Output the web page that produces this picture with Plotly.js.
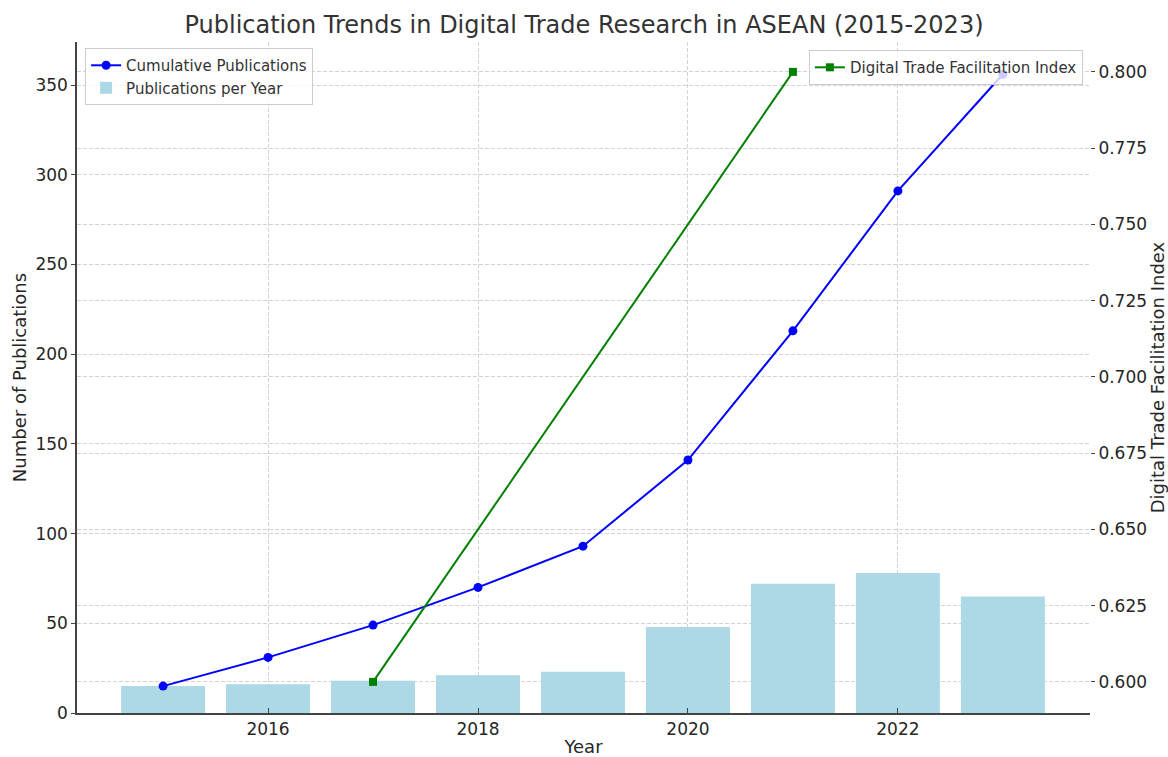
<!DOCTYPE html>
<html>
<head>
<meta charset="utf-8">
<script src="https://cdn.plot.ly/plotly-3.0.1.min.js"></script>
<style>html,body{margin:0;padding:0;background:#fff;}#chart{width:1168px;height:757px;}</style>
</head>
<body>
<div id="chart"></div>
<script>
const years = [2015, 2016, 2017, 2018, 2019, 2020, 2021, 2022, 2023];
const perYear = [15, 16, 18, 21, 23, 48, 72, 78, 65];
const cumulative = [15, 31, 49, 70, 93, 141, 213, 291, 356];
const dtfiYears = [2017, 2021];
const dtfiValues = [0.60, 0.80];

const FONT = 'DejaVu Sans, sans-serif';
const gridColor = '#d3d3d3';
const gridDash = '4px,2px';

const traces = [
  {
    type: 'bar', x: years, y: perYear, name: 'Publications per Year',
    marker: {color: '#add8e6'}, width: 0.8, xaxis: 'x', yaxis: 'y',
    legend: 'legend', legendrank: 2
  },
  {
    type: 'scatter', mode: 'lines+markers', x: years, y: cumulative,
    name: 'Cumulative Publications', line: {color: '#0000ff', width: 2},
    marker: {color: '#0000ff', size: 9, symbol: 'circle'},
    xaxis: 'x', yaxis: 'y', legend: 'legend', legendrank: 1
  },
  {
    type: 'scatter', mode: 'lines+markers', x: dtfiYears, y: dtfiValues,
    name: 'Digital Trade Facilitation Index', line: {color: '#008000', width: 2},
    marker: {color: '#008000', size: 8, symbol: 'square'},
    xaxis: 'x', yaxis: 'y2', legend: 'legend2'
  }
];

const layout = {
  width: 1168, height: 757,
  margin: {l: 77, r: 78, t: 42, b: 44},
  paper_bgcolor: '#fff', plot_bgcolor: '#fff',
  font: {family: FONT, color: '#262626', size: 17},
  title: {text: 'Publication Trends in Digital Trade Research in ASEAN (2015-2023)',
          font: {family: FONT, size: 24, color: '#333'}, x: 0.5, xanchor: 'center', y: 0.967, yanchor: 'middle'},
  showlegend: true,
  xaxis: {
    range: [2014.18, 2023.83], tickvals: [2016, 2018, 2020, 2022], ticktext: ['2016', '2018', '2020', '2022'],
    showgrid: true, gridcolor: gridColor, griddash: gridDash, gridwidth: 0.8,
    showline: true, linecolor: '#444', linewidth: 1.5, zeroline: false,
    ticks: 'inside', ticklen: 5, tickcolor: '#444',
    tickfont: {size: 17},
    title: {text: 'Year', font: {size: 18}, standoff: 2}
  },
  yaxis: {
    range: [0, 374], tickvals: [0, 50, 100, 150, 200, 250, 300, 350],
    showgrid: true, gridcolor: gridColor, griddash: gridDash, gridwidth: 0.8,
    showline: true, linecolor: '#444', linewidth: 1.5, zeroline: false,
    ticks: 'outside', ticklen: 4, tickcolor: '#444',
    tickfont: {size: 17},
    title: {text: 'Number of Publications', font: {size: 18}, standoff: 4}
  },
  yaxis2: {
    overlaying: 'y', side: 'right', range: [0.5898, 0.8098],
    tickvals: [0.600, 0.625, 0.650, 0.675, 0.700, 0.725, 0.750, 0.775, 0.800],
    ticktext: ['0.600', '0.625', '0.650', '0.675', '0.700', '0.725', '0.750', '0.775', '0.800'],
    showgrid: true, gridcolor: gridColor, griddash: gridDash, gridwidth: 0.8,
    showline: false, zeroline: false,
    ticks: 'outside', ticklen: 4, tickcolor: '#444',
    tickfont: {size: 17},
    title: {text: 'Digital Trade Facilitation Index', font: {size: 18}, standoff: 6}
  },
  legend: {
    x: 0.008, y: 0.991, xanchor: 'left', yanchor: 'top',
    bgcolor: 'rgba(255,255,255,0.8)', bordercolor: '#cccccc', borderwidth: 1,
    font: {size: 15, color: '#333'}, traceorder: 'normal', tracegroupgap: 0
  },
  legend2: {
    x: 0.993, y: 0.988, xanchor: 'right', yanchor: 'top',
    bgcolor: 'rgba(255,255,255,0.8)', bordercolor: '#cccccc', borderwidth: 1,
    font: {size: 15, color: '#333'}
  }
};

Plotly.newPlot('chart', traces, layout, {displayModeBar: false, responsive: false});
</script>
</body>
</html>
